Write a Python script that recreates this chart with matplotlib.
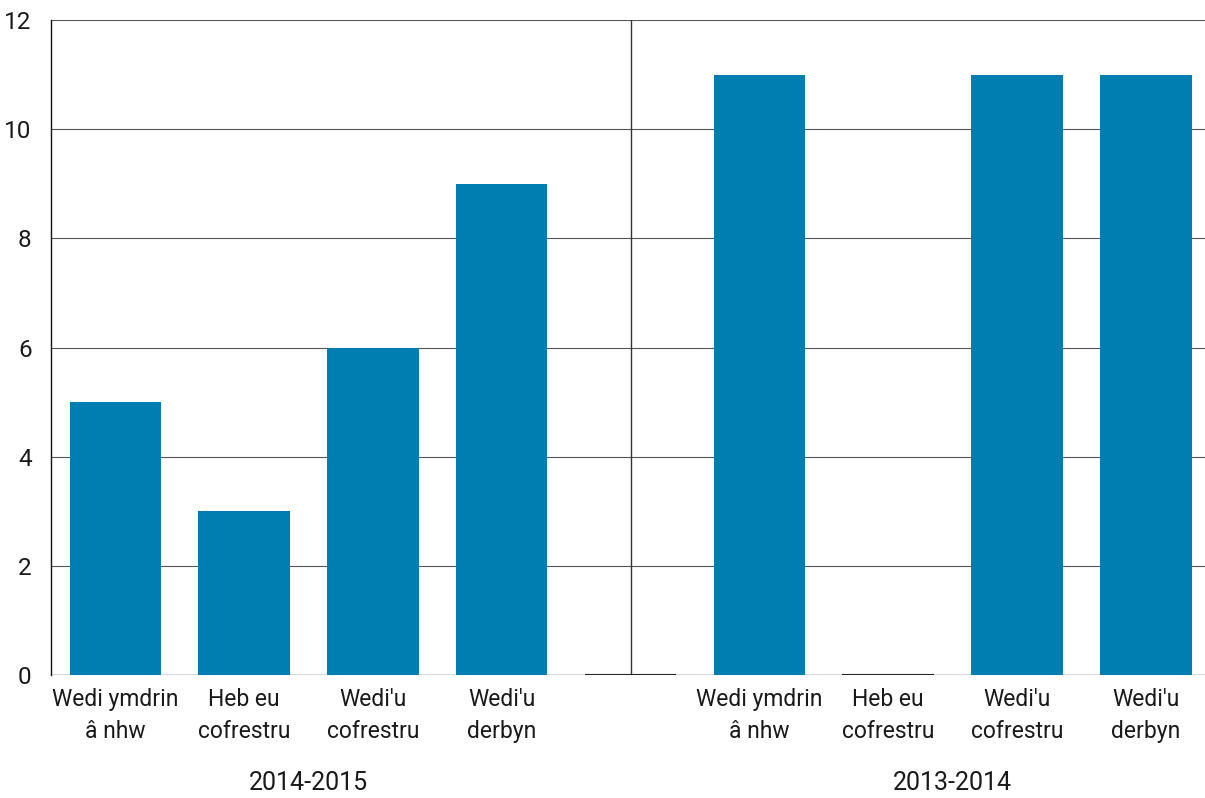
import matplotlib.pyplot as plt
from matplotlib.transforms import blended_transform_factory
import numpy as np

plt.rcParams['font.family'] = ['Roboto', 'DejaVu Sans']
plt.rcParams['font.stretch'] = 'condensed'

# slots: four bars per year, blank slot between the two groups
labels = ["Wedi ymdrin\nâ nhw", "Heb eu\ncofrestru", "Wedi'u\ncofrestru", "Wedi'u\nderbyn",
          "",
          "Wedi ymdrin\nâ nhw", "Heb eu\ncofrestru", "Wedi'u\ncofrestru", "Wedi'u\nderbyn"]
values = [5, 3, 6, 9, 0, 11, 0, 11, 11]
groups = ["2014-2015", "2013-2014"]

color = '#007db1'

fig = plt.figure(figsize=(12.05, 7.98), dpi=100)
ax = fig.add_axes([0.0423, 0.154, 0.962, 0.821])

x = np.arange(len(values))
bars = ax.bar(x, values, width=0.71, color=color, zorder=3)

# zero bars show as a dark line on the baseline
for b, v in zip(bars, values):
    if v == 0:
        ax.hlines(0, b.get_x(), b.get_x() + b.get_width(), color='#222222', lw=1.5, zorder=4)

ax.set_xlim(-0.5, len(values) - 0.5)
ax.set_ylim(0, 12)
ax.set_yticks(range(0, 13, 2))
ax.yaxis.grid(True, color='#555555', lw=0.8, zorder=0)
ax.axvline(4, color='#333333', lw=1, zorder=2)

for s in ['top', 'right', 'bottom']:
    ax.spines[s].set_visible(False)
ax.spines['left'].set_color('#111111')
ax.spines['left'].set_linewidth(1)
ax.axhline(0, color='#666666', lw=1, zorder=2)

ax.set_xticks(x)
ax.set_xticklabels(labels, fontsize=16.5, color='#1a1a1a', linespacing=1.5)
ax.tick_params(axis='x', length=0, pad=9)
ax.tick_params(axis='y', length=0, pad=14, labelsize=17.5, labelcolor='#1a1a1a')

trans = blended_transform_factory(ax.transData, ax.transAxes)
ax.text(1.5, -0.165, groups[0], transform=trans, ha='center', va='center', fontsize=18, color='#1a1a1a')
ax.text(6.5, -0.165, groups[1], transform=trans, ha='center', va='center', fontsize=18, color='#1a1a1a')

fig.savefig('out.png', dpi=100)
